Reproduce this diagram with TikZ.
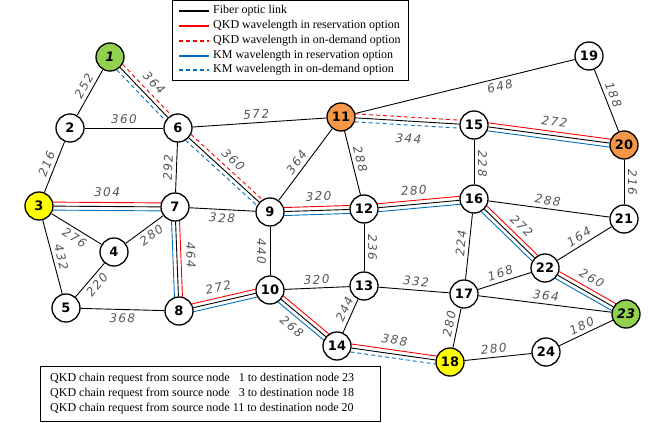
\documentclass[tikz,border=0pt]{standalone}
\usepackage{fontspec}
\setmainfont{Liberation Serif}
\newfontfamily\nodefont{DejaVu Sans}
\newfontfamily\wtfont[LetterSpace=12]{DejaVu Sans}
\usetikzlibrary{calc, backgrounds}

\definecolor{qkdred}{RGB}{255,0,0}
\definecolor{kmblue}{RGB}{0,112,192}
\definecolor{srcgreen}{RGB}{146,208,80}
\definecolor{midorange}{RGB}{247,150,70}
\definecolor{dstyellow}{RGB}{255,255,0}
\definecolor{wtgray}{RGB}{85,85,85}

\tikzset{
  stn/.style={circle, draw, line width=1.3pt, fill=white, minimum size=28pt, inner sep=0pt,
    font=\nodefont\bfseries\fontsize{13}{13}\selectfont},
  src/.style={stn, fill=srcgreen, font=\nodefont\bfseries\itshape\fontsize{13}{13}\selectfont},
  link/.style={line width=0.9pt},
  wt/.style={sloped, text=wtgray, inner sep=3.5pt, font=\wtfont\itshape\fontsize{12}{12}\selectfont},
  farup/.style={above=5.5pt},
  fardn/.style={below=5.5pt},
  farfardn/.style={below=9pt},
  qkdres/.style={qkdred, line width=0.9pt},
  qkddem/.style={qkdred, line width=0.9pt, dash pattern=on 4pt off 3pt},
  kmres/.style={kmblue, line width=0.9pt},
  kmdem/.style={kmblue, line width=0.9pt, dash pattern=on 4pt off 3pt},
  legtext/.style={anchor=west, inner sep=0pt, font=\fontsize{12}{14}\selectfont},
}

\def\gap{4pt}
% red on the left of #1 -> #2, blue on the right
\newcommand{\wavepair}[4]{%
  \draw[#3] ($(#1)!\gap!90:(#2)$) -- ($(#2)!\gap!-90:(#1)$);
  \draw[#4] ($(#1)!\gap!-90:(#2)$) -- ($(#2)!\gap!90:(#1)$);
}

\begin{document}
\begin{tikzpicture}[x=1pt, y=-1pt]
  \useasboundingbox (0,0) rectangle (656,423);

  % Nodes of the network
  \foreach \n/\x/\y in {2/70/128, 4/114/252, 5/66/308, 6/178/128, 7/175/207,
      8/179/311, 9/270/212, 10/270/290, 12/364/209, 13/364/286, 14/337/346,
      15/474/125, 16/474/199, 17/464/294, 19/589/56, 21/624/219, 22/545/268,
      24/546/352}
    \node[stn] (n\n) at (\x,\y) {\n};
  \node[src] (n1) at (110,57) {1};
  \node[src] (n23) at (626,314) {23};
  \node[stn, fill=dstyellow] (n3) at (39,206) {3};
  \node[stn, fill=dstyellow] (n18) at (450,362) {18};
  \node[stn, fill=midorange] (n11) at (341,117) {11};
  \node[stn, fill=midorange] (n20) at (624,145) {20};

  \begin{scope}[on background layer]
    % Fiber links with their lengths
    \foreach \a/\b/\w/\s/\p in {1/2/252/above/0.45, 1/6/364/farup/0.5,
        2/6/360/above/0.5, 2/3/216/above/0.5, 3/7/304/farup/0.5,
        3/4/276/below/0.55, 3/5/432/above/0.53, 4/7/280/below/0.55,
        4/5/220/below/0.48, 5/8/368/below/0.5, 6/7/292/above/0.5,
        6/9/360/farup/0.5, 6/11/572/above/0.48, 7/9/328/below/0.5,
        7/8/464/farup/0.46, 8/10/272/farup/0.45, 9/10/440/below/0.5,
        9/11/364/above/0.46, 9/12/320/farup/0.53, 10/13/320/above/0.5,
        10/14/268/fardn/0.44, 11/12/288/above/0.47, 11/15/344/farfardn/0.52,
        11/19/648/below/0.65, 12/13/236/above/0.5, 12/16/280/farup/0.45,
        13/14/244/above/0.4, 13/17/332/above/0.52, 14/18/388/farup/0.49,
        15/16/228/above/0.54, 15/20/272/farup/0.53, 16/17/224/above/0.46,
        16/21/288/above/0.48, 16/22/272/farup/0.55, 17/18/280/above/0.43,
        17/22/168/above/0.47, 17/23/364/above/0.5, 18/24/280/above/0.45,
        19/20/188/above/0.46, 20/21/216/above/0.51, 21/22/164/above/0.52,
        22/23/260/farup/0.49, 23/24/180/above/0.51}
      \draw[link] (n\a) -- node[wt, \s, pos=\p] {\w} (n\b);

    % Request 1 -> 23
    \wavepair{n1}{n6}{qkddem}{kmdem}
    \wavepair{n6}{n9}{qkddem}{kmdem}
    \wavepair{n9}{n12}{qkdres}{kmres}
    \wavepair{n12}{n16}{qkdres}{kmres}
    \wavepair{n16}{n22}{qkdres}{kmres}
    \wavepair{n22}{n23}{qkdres}{kmres}
    % Request 3 -> 18
    \wavepair{n3}{n7}{qkdres}{kmres}
    \wavepair{n7}{n8}{qkdres}{kmres}
    \wavepair{n8}{n10}{qkdres}{kmres}
    \wavepair{n10}{n14}{qkdres}{kmres}
    \wavepair{n14}{n18}{qkdres}{kmdem}
    % Request 11 -> 20
    \wavepair{n11}{n15}{qkddem}{kmdem}
    \wavepair{n15}{n20}{qkdres}{kmres}
  \end{scope}

  % Legend
  \draw[line width=0.9pt] (172,0.5) rectangle (408,80);
  \foreach \s/\t/\y/\k in {link/Fiber optic link/11/1,
      qkdres/QKD wavelength in reservation option/26/2,
      qkddem/QKD wavelength in on-demand option/41/3,
      kmres/KM wavelength in reservation option/56/4,
      kmdem/KM wavelength in on-demand option/70/5}
  {
    \node[legtext] (leg\k) at (213,\y) {\t};
    \draw[\s, line width=1.2pt] ([xshift=-34pt]leg\k.west) -- ([xshift=-4pt]leg\k.west);
  }

  % Requests
  \draw[line width=0.9pt] (40,366) rectangle (380,421);
  \node[legtext] (req1) at (50,379) {QKD chain request from source node \hphantom{1}1 to destination node 23};
  \node[legtext] (req2) at (50,394) {QKD chain request from source node \hphantom{1}3 to destination node 18};
  \node[legtext] (req3) at (50,409) {QKD chain request from source node 11 to destination node 20};
\end{tikzpicture}
\end{document}
